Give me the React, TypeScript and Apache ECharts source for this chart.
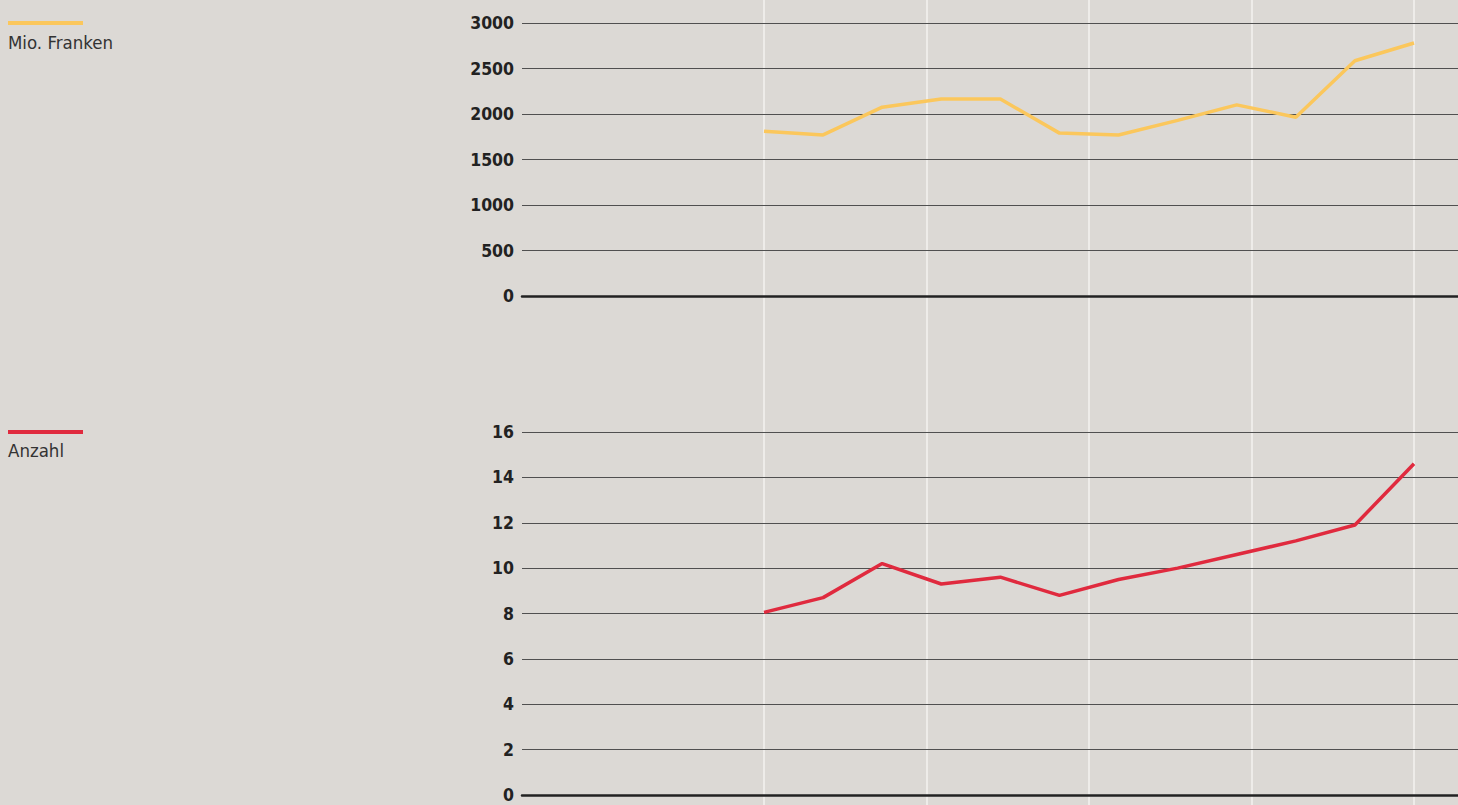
import React, { useEffect, useRef } from "react";
import * as echarts from "echarts";

const periods = [0, 1, 2, 3, 4, 5, 6, 7, 8, 9, 10, 11];
const mioFranken = [1810, 1770, 2075, 2165, 2165, 1790, 1770, 1930, 2100, 1965, 2585, 2780];
const anzahl = [8.05, 8.7, 10.2, 9.3, 9.6, 8.8, 9.5, 10.0, 10.6, 11.2, 11.9, 14.6];
const topTicks = { min: 0, max: 3000, interval: 500 };
const bottomTicks = { min: 0, max: 16, interval: 2 };
const legendLabels = ["Mio. Franken", "Anzahl"];

const GOLD = "#fbc75c";
const RED = "#e02a3e";
const FONT = "'DejaVu Sans Condensed', 'DejaVu Sans', sans-serif";

export default function App() {
  const ref = useRef<HTMLDivElement>(null);
  useEffect(() => {
    document.body.style.margin = "0";
    const chart = echarts.init(ref.current!, null, { renderer: "svg" });
    const xMin = -(764 - 522) / (650 / 11);
    const xMax = 11 + (1458 - 1414) / (650 / 11);
    const yLabel = {
      fontSize: 17.5, fontWeight: "bold", color: "#222", fontFamily: FONT, margin: 8,
      formatter: (v: number) => String(v),
    };
    const split = { show: true, lineStyle: { color: "#505050", width: 1 } };
    chart.setOption({
      animation: false,
      backgroundColor: "#dcd9d5",
      grid: [
        { left: 522, right: 0, top: 23, height: 273 },
        { left: 522, right: 0, top: 432, height: 363 },
        { left: 764, width: 650, top: 0, bottom: 0 },
      ],
      xAxis: [
        { gridIndex: 0, type: "value", min: xMin, max: xMax, axisLabel: { show: false }, axisTick: { show: false }, splitLine: { show: false }, axisLine: { show: true, lineStyle: { color: "#222", width: 2.5 } }, z: 3 },
        { gridIndex: 1, type: "value", min: xMin, max: xMax, axisLabel: { show: false }, axisTick: { show: false }, splitLine: { show: false }, axisLine: { show: true, lineStyle: { color: "#222", width: 2.5 } }, z: 3 },
        { gridIndex: 2, type: "value", min: 0, max: 11, interval: 2.75, axisLabel: { show: false }, axisTick: { show: false }, axisLine: { show: false }, splitLine: { show: true, lineStyle: { color: "#f4f2ef", width: 1.5 } }, z: 0 },
      ],
      yAxis: [
        { gridIndex: 0, type: "value", ...topTicks, axisLabel: yLabel, axisLine: { show: false }, axisTick: { show: false }, splitLine: split, z: 1 },
        { gridIndex: 1, type: "value", ...bottomTicks, axisLabel: yLabel, axisLine: { show: false }, axisTick: { show: false }, splitLine: split, z: 1 },
        { gridIndex: 2, type: "value", show: false, splitLine: { show: false } },
      ],
      series: [
        {
          type: "line", xAxisIndex: 0, yAxisIndex: 0, symbol: "none", z: 5,
          lineStyle: { color: GOLD, width: 3.5 },
          data: periods.map((p, i) => [p, mioFranken[i]]),
        },
        {
          type: "line", xAxisIndex: 1, yAxisIndex: 1, symbol: "none", z: 5,
          lineStyle: { color: RED, width: 3.5 },
          data: periods.map((p, i) => [p, anzahl[i]]),
        },
      ],
      graphic: [
        { type: "line", shape: { x1: 8, y1: 23, x2: 83, y2: 23 }, style: { stroke: GOLD, lineWidth: 4 } },
        { type: "text", x: 8, y: 33, style: { text: legendLabels[0], fontSize: 18.5, fontFamily: FONT, fill: "#333" } },
        { type: "line", shape: { x1: 8, y1: 432, x2: 83, y2: 432 }, style: { stroke: RED, lineWidth: 4 } },
        { type: "text", x: 8, y: 441, style: { text: legendLabels[1], fontSize: 18.5, fontFamily: FONT, fill: "#333" } },
      ],
    });
    return () => chart.dispose();
  }, []);
  return <div ref={ref} style={{ width: 1458, height: 805 }} />;
}
